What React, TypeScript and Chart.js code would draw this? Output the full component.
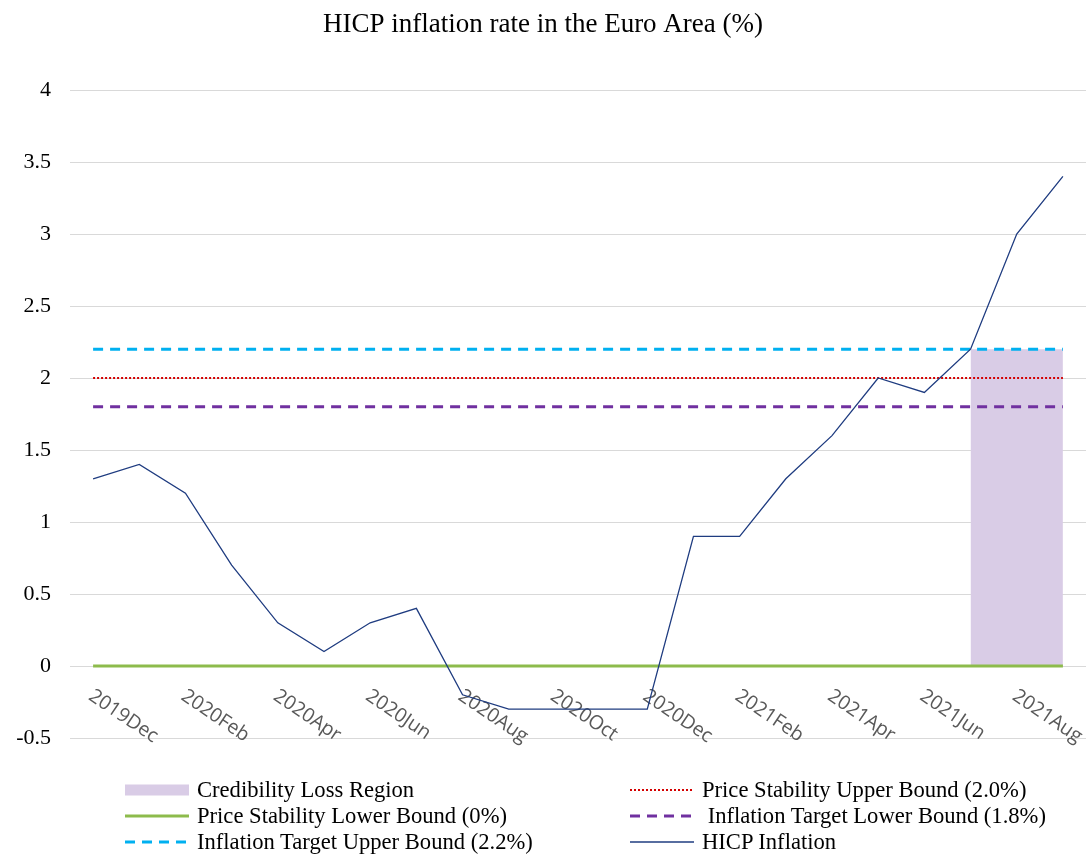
import React, { useEffect, useRef } from 'react';
import { Chart, registerables } from 'chart.js';

Chart.register(...registerables);

const categories = [
  '2019Dec', '2020Jan', '2020Feb', '2020Mar', '2020Apr', '2020May', '2020Jun', '2020Jul',
  '2020Aug', '2020Sep', '2020Oct', '2020Nov', '2020Dec', '2021Jan', '2021Feb', '2021Mar',
  '2021Apr', '2021May', '2021Jun', '2021Jul', '2021Aug', '2021Sep',
];

const hicpInflation = [
  1.3, 1.4, 1.2, 0.7, 0.3, 0.1, 0.3, 0.4, -0.2, -0.3, -0.3,
  -0.3, -0.3, 0.9, 0.9, 1.3, 1.6, 2.0, 1.9, 2.2, 3.0, 3.4,
];

const priceStabilityUpper = [
  2.0, 2.0, 2.0, 2.0, 2.0, 2.0, 2.0, 2.0, 2.0, 2.0, 2.0,
  2.0, 2.0, 2.0, 2.0, 2.0, 2.0, 2.0, 2.0, 2.0, 2.0, 2.0,
];

const priceStabilityLower = [
  0, 0, 0, 0, 0, 0, 0, 0, 0, 0, 0,
  0, 0, 0, 0, 0, 0, 0, 0, 0, 0, 0,
];

const targetLower = [
  1.8, 1.8, 1.8, 1.8, 1.8, 1.8, 1.8, 1.8, 1.8, 1.8, 1.8,
  1.8, 1.8, 1.8, 1.8, 1.8, 1.8, 1.8, 1.8, 1.8, 1.8, 1.8,
];

const targetUpper = [
  2.2, 2.2, 2.2, 2.2, 2.2, 2.2, 2.2, 2.2, 2.2, 2.2, 2.2,
  2.2, 2.2, 2.2, 2.2, 2.2, 2.2, 2.2, 2.2, 2.2, 2.2, 2.2,
];

const credibilityLoss = [
  null, null, null, null, null, null, null, null, null, null, null,
  null, null, null, null, null, null, null, null, 2.2, 2.2, 2.2,
];

const yMin = -0.5;
const yMax = 4;
const yStep = 0.5;
const xLabelEvery = 2;

const COLORS = {
  region: '#d9cce6',
  red: '#d40000',
  green: '#8dbb4c',
  purple: '#7030a0',
  cyan: '#00b0f0',
  hicp: '#1f3c80',
  grid: '#d9d9d9',
};

const legendItems = [
  { label: 'Credibility Loss Region', kind: 'box', color: COLORS.region, col: 0, row: 0 },
  { label: 'Price Stability Upper Bound (2.0%)', kind: 'dot', color: COLORS.red, col: 1, row: 0 },
  { label: 'Price Stability Lower Bound (0%)', kind: 'solid', color: COLORS.green, width: 3, col: 0, row: 1 },
  { label: ' Inflation Target Lower Bound (1.8%)', kind: 'dash', color: COLORS.purple, col: 1, row: 1 },
  { label: 'Inflation Target Upper Bound (2.2%)', kind: 'dash', color: COLORS.cyan, col: 0, row: 2 },
  { label: 'HICP Inflation', kind: 'solid', color: COLORS.hicp, width: 1.5, col: 1, row: 2 },
];

const xLabelPlugin = {
  id: 'rotatedXLabels',
  beforeDatasetsDraw(chart: any) {
    const { ctx } = chart;
    const xs = chart.scales.x;
    const ys = chart.scales.y;
    const y0 = ys.getPixelForValue(0);
    ctx.save();
    ctx.font = '19.5px "Open Sans"';
    ctx.fillStyle = '#595959';
    ctx.textAlign = 'left';
    ctx.textBaseline = 'top';
    categories.forEach((c, i) => {
      if (i % xLabelEvery !== 0) return;
      const px = xs.getPixelForValue(i);
      ctx.save();
      ctx.translate(px + 3, y0 + 20);
      ctx.rotate((34 * Math.PI) / 180);
      ctx.fillText(c, 0, 0);
      ctx.restore();
    });
    ctx.restore();
  },
};

function LegendSample({ item }: { item: any }) {
  const w = 64;
  const h = 14;
  let el: any = null;
  if (item.kind === 'box') {
    el = <rect x={0} y={1.5} width={w} height={11} fill={item.color} />;
  } else if (item.kind === 'dot') {
    el = <line x1={0} y1={7} x2={w} y2={7} stroke={item.color} strokeWidth={2} strokeDasharray="2 2" />;
  } else if (item.kind === 'dash') {
    el = <line x1={0} y1={7} x2={w} y2={7} stroke={item.color} strokeWidth={3} strokeDasharray="10 7" />;
  } else {
    el = <line x1={0} y1={7} x2={w} y2={7} stroke={item.color} strokeWidth={item.width || 2} />;
  }
  return (
    <svg width={w} height={h} style={{ display: 'block', flex: 'none' }}>
      {el}
    </svg>
  );
}

export default function App() {
  const canvasRef = useRef<HTMLCanvasElement | null>(null);

  useEffect(() => {
    const canvas = canvasRef.current;
    if (!canvas) return;
    const chart = new Chart(canvas, {
      type: 'line',
      data: {
        labels: categories,
        datasets: [
          {
            label: 'HICP Inflation',
            data: hicpInflation,
            borderColor: COLORS.hicp,
            borderWidth: 1.3,
            pointRadius: 0,
            tension: 0,
            fill: false,
            order: 0,
          },
          {
            label: 'Price Stability Upper Bound (2.0%)',
            data: priceStabilityUpper,
            borderColor: COLORS.red,
            borderWidth: 2,
            borderDash: [2, 2],
            pointRadius: 0,
            fill: false,
            order: 1,
          },
          {
            label: 'Inflation Target Lower Bound (1.8%)',
            data: targetLower,
            borderColor: COLORS.purple,
            borderWidth: 3,
            borderDash: [10, 7],
            pointRadius: 0,
            fill: false,
            order: 2,
          },
          {
            label: 'Inflation Target Upper Bound (2.2%)',
            data: targetUpper,
            borderColor: COLORS.cyan,
            borderWidth: 3,
            borderDash: [10, 7],
            pointRadius: 0,
            fill: false,
            order: 3,
          },
          {
            label: 'Price Stability Lower Bound (0%)',
            data: priceStabilityLower,
            borderColor: COLORS.green,
            borderWidth: 3,
            pointRadius: 0,
            fill: false,
            order: 4,
          },
          {
            label: 'Credibility Loss Region',
            data: credibilityLoss as any,
            borderColor: 'rgba(0,0,0,0)',
            borderWidth: 0,
            backgroundColor: COLORS.region,
            pointRadius: 0,
            fill: 'origin',
            spanGaps: false,
            order: 5,
          },
        ],
      },
      options: {
        responsive: false,
        animation: false,
        devicePixelRatio: 1,
        layout: { padding: { left: 0, right: 0, top: 0, bottom: 116 } },
        plugins: {
          legend: { display: false },
          tooltip: { enabled: false },
          title: {
            display: true,
            text: 'HICP inflation rate in the Euro Area (%)',
            color: '#000',
            font: { family: '"Liberation Serif"', size: 27, weight: 'normal', lineHeight: 1.2 },
            padding: { top: 8.5, bottom: 49.1 },
          },
        },
        scales: {
          x: {
            type: 'category',
            display: false,
            offset: true,
          },
          y: {
            min: yMin,
            max: yMax,
            border: { display: false },
            grid: { color: COLORS.grid, drawTicks: false, lineWidth: 1 },
            ticks: {
              stepSize: yStep,
              color: '#000',
              padding: 19,
              font: { family: '"Liberation Serif"', size: 22 },
              callback: (v: any) => String(Math.round(Number(v) * 10) / 10),
            },
            afterFit(scale: any) {
              scale.width = 70;
            },
          },
        },
      },
      plugins: [xLabelPlugin],
    } as any);
    return () => chart.destroy();
  }, []);

  const colLeft = [125, 630];
  const rowCenter = [790, 816, 842];

  return (
    <div style={{ position: 'absolute', left: 0, top: 0, width: 1086, height: 854, background: '#fff', overflow: 'hidden' }}>
      <canvas ref={canvasRef} width={1086} height={854} style={{ display: 'block' }} />
      {legendItems.map((item, i) => (
        <div
          key={i}
          style={{
            position: 'absolute',
            left: colLeft[item.col],
            top: rowCenter[item.row] - 13,
            height: 26,
            display: 'flex',
            alignItems: 'center',
            whiteSpace: 'pre',
            fontFamily: '"Liberation Serif"',
            fontSize: 22.6,
            color: '#000',
          }}
        >
          <LegendSample item={item} />
          <span style={{ marginLeft: 8, lineHeight: '26px' }}>{item.label}</span>
        </div>
      ))}
    </div>
  );
}
